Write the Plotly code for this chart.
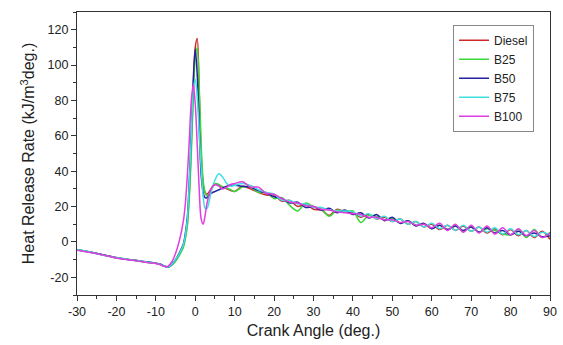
import plotly.graph_objects as go

# Crank angle (deg.)
crank_angle = [-30, -27, -24, -21, -18, -15, -12, -10, -9, -8, -7, -6, -5, -4, -3,
               -2.5, -2, -1.5, -1, -0.5, 0, 0.5, 1, 1.5, 2, 2.5, 3,
               4, 5, 6, 7, 8, 9,
               10, 12, 14, 16, 18, 20, 22, 24, 26, 28, 30, 32, 34, 36, 38, 40,
               42, 44, 46, 48, 50, 52, 54, 56, 58, 60, 62, 64, 66, 68, 70, 72,
               74, 76, 78, 80, 82, 84, 86, 88, 90]

diesel = [-4.5, -5.6, -7.1, -8.4, -9.6, -10.4, -11.6, -12.1, -12.6, -13.5, -14.2, -13.0, -10.5, -7.0, -2.0,
          3, 11, 28, 55, 86, 110, 115, 85, 50, 33, 28, 27,
          30, 32.5, 32, 31, 30, 29,
          28.5, 31.5, 30, 28, 26.5, 26.5, 23, 23.5, 20, 21.5, 18.5, 18, 15, 18.5, 17, 16.5,
          14, 15.5, 13, 14, 11.5, 13, 10, 11.5, 8.5, 10, 7, 9.5, 6.5, 9, 6, 8.5,
          5, 7.5, 4, 7, 3.5, 6.5, 2.5, 6, 1.5]

b25 = [-4.4, -5.5, -7.0, -8.6, -9.5, -10.6, -11.5, -12.0, -12.7, -13.6, -14.3, -13.3, -11.0, -7.5, -3.0,
       2, 9, 25, 50, 82, 104, 110, 88, 55, 35, 28, 26,
       29, 33, 32.5, 31, 30.5, 29.5,
       28.5, 31, 31, 28, 28, 24.5, 25, 20.5, 17.5, 22, 20, 18.5, 14.5, 18, 17, 17.5,
       11, 15, 14.5, 12.5, 13.5, 10.5, 12, 9.5, 10, 7.5, 9.5, 7, 9, 6, 8.5, 5.5,
       7.5, 6.5, 4.5, 4, 7, 2.5, 7, 2.5, 5.5]

b50 = [-4.6, -5.7, -7.0, -8.5, -9.7, -10.5, -11.4, -12.1, -12.5, -13.4, -14.2, -12.8, -10.0, -6.0, -1.0,
       5, 14, 35, 62, 92, 109, 95, 65, 38, 28, 25, 25,
       27.5, 28.5, 29.5, 30.5, 31.5, 32,
       32, 31.5, 31, 29, 27.5, 25.5, 24.5, 22, 22.5, 19.5, 20, 18, 19, 16.5, 18, 15.5,
       16.5, 13.5, 15.5, 12, 14, 10.5, 12, 9, 10.5, 7.5, 9.5, 7, 9, 6.5, 8.5, 5.5,
       8, 5, 6.5, 4, 6, 3.5, 5, 3, 3.5]

b75 = [-4.3, -5.6, -7.2, -8.5, -9.5, -10.5, -11.5, -12.0, -12.6, -13.5, -14.2, -12.8, -10.0, -6.5, -1.5,
       4, 13, 33, 60, 86, 92, 82, 62, 42, 26, 19, 19,
       28, 35, 38.5, 36.5, 33, 31.5,
       32, 33, 32, 29.5, 28, 27, 23.5, 23.5, 21.5, 21.5, 19.5, 19.5, 18, 17.5, 17.5, 17,
       14.5, 16, 13, 14.5, 11.5, 13, 10, 11.5, 8.5, 10.5, 7.5, 9.5, 6.5, 9.5, 6, 8.5,
       5.5, 8, 4.5, 7.5, 4, 6.5, 3, 5.5, 4]

b100 = [-4.7, -5.8, -7.1, -8.6, -9.8, -10.6, -11.7, -12.2, -12.8, -13.8, -13.9, -11.5, -6.5, 1, 12,
        22, 38, 58, 80, 89, 78, 55, 30, 13, 10, 15, 22,
        30, 32.5, 31.5, 30, 31, 32.5,
        33, 34, 31, 31, 27.5, 27, 24.5, 22.5, 22, 20.5, 20, 18.5, 18, 17, 16.5, 16,
        15.5, 14, 14, 12.5, 12.5, 11, 11.5, 9.5, 10, 8, 10.5, 6.5, 10, 5.5, 9.5, 5,
        9, 4.5, 8, 4, 7.5, 3.5, 6.5, 2.5, 5]

series_names = ["Diesel", "B25", "B50", "B75", "B100"]
series_values = [diesel, b25, b50, b75, b100]
series_colors = ["#cc2a2a", "#3ad83a", "#22229a", "#3ee0e0", "#e03ee0"]

x_tick_vals = [-30, -20, -10, 0, 10, 20, 30, 40, 50, 60, 70, 80, 90]
x_tick_text = ["-30", "-20", "-10", "0", "10", "20", "30", "40", "50", "60", "70", "80", "90"]
y_tick_vals = [-20, 0, 20, 40, 60, 80, 100, 120]
y_tick_text = ["-20", "0", "20", "40", "60", "80", "100", "120"]

FONT = "Liberation Sans, Arial, sans-serif"

fig = go.Figure()
for name, vals, col in zip(series_names, series_values, series_colors):
    fig.add_trace(go.Scatter(
        x=crank_angle, y=vals, name=name, mode="lines",
        line=dict(color=col, width=1.5, shape="spline", smoothing=0.9),
    ))

axis_common = dict(
    showline=True, linecolor="#333333", linewidth=1.2, mirror=True,
    ticks="outside", ticklen=5, tickwidth=1.2, tickcolor="#333333",
    showgrid=False, zeroline=False, automargin=False,
    tickfont=dict(family=FONT, size=12.5, color="#222222"),
)

fig.update_xaxes(
    range=[-30, 90], tickmode="array", tickvals=x_tick_vals, ticktext=x_tick_text,
    minor=dict(ticks="outside", ticklen=3, dtick=5, tick0=-30, tickcolor="#333333", tickwidth=1.2),
    title=dict(text="Crank Angle (deg.)", standoff=6,
               font=dict(family=FONT, size=16, color="#222222")),
    **axis_common,
)
fig.update_yaxes(
    range=[-30, 130], tickmode="array", tickvals=y_tick_vals, ticktext=y_tick_text,
    minor=dict(ticks="outside", ticklen=3, dtick=10, tick0=-30, tickcolor="#333333", tickwidth=1.2),
    title=dict(text="Heat Release Rate (kJ/m<sup>3</sup>deg.)", standoff=8,
               font=dict(family=FONT, size=16, color="#222222")),
    **axis_common,
)

fig.update_layout(
    width=563, height=345,
    margin=dict(l=77, r=13, t=12, b=50),
    paper_bgcolor="white", plot_bgcolor="white",
    showlegend=True,
    legend=dict(
        x=0.795, y=0.955, xanchor="left", yanchor="top",
        bgcolor="white", bordercolor="#888888", borderwidth=1,
        font=dict(family=FONT, size=12, color="#222222"),
        tracegroupgap=0, itemwidth=30,
    ),
)

fig.write_html("out.html", config={"displayModeBar": False},
               post_script="document.body.style.margin='0px';document.body.style.overflow='hidden';")
